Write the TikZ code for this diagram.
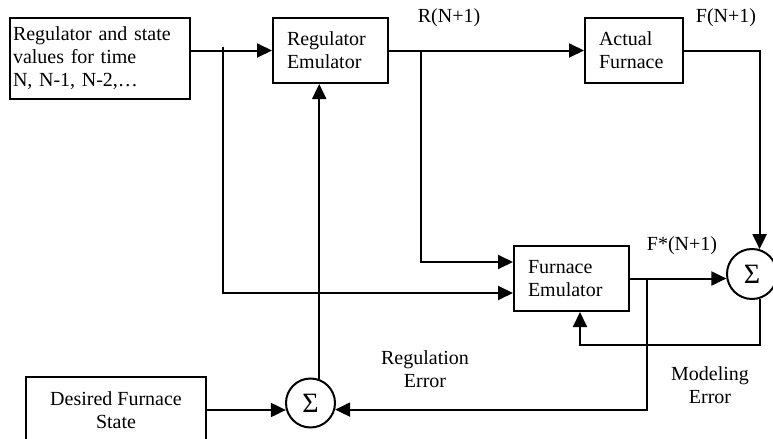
\documentclass[tikz,border=0pt]{standalone}
\usepackage{fontspec}
\setmainfont{Liberation Serif}
\usetikzlibrary{arrows.meta, positioning, calc}

\begin{document}
\begin{tikzpicture}[-{Triangle[length=7.5pt,width=7pt]}, line width=1pt, font=\fontsize{10}{11.5}\selectfont]
  \tikzstyle{block} = [rectangle, draw, minimum height=32.5pt, align=left, inner xsep=7pt]
  \tikzstyle{sum} = [circle, draw, inner sep=0pt, font=\fontsize{14}{14}\selectfont]
  \tikzstyle{lbl} = [align=center, inner sep=0pt]

  \useasboundingbox (0,0) rectangle (386.5pt,-219.5pt);

  \node[rectangle, draw, anchor=north west, text width=87pt, inner xsep=1.5pt, minimum height=40.5pt, align=left] (Input) at (4.5pt,-8.5pt) {Regulator and state\\values for time\\N, N-1, N-2,\ldots};
  \node[block, text width=43.5pt, right=40.5pt of Input.north east, anchor=north west] (RegEm) {Regulator\\Emulator};
  \node[block, text width=35pt, right=97.5pt of RegEm.north east, anchor=north west] (Furnace) {Actual\\Furnace};
  \node[block, text width=43.5pt] (FurnEm) at (285.75pt,-139.25pt) {Furnace\\Emulator};
  \node[sum, minimum size=25pt] (SumM) at (376pt,-137pt) {Σ};
  \node[sum, minimum size=24.5pt] (SumR) at (155.25pt,-201.5pt) {Σ};
  \node[rectangle, draw, anchor=north west, minimum width=90pt, minimum height=33pt, align=center] (Desired) at (12.5pt,-188pt) {Desired Furnace\\State};

  % labels
  \node[lbl] (RLabel) at (224.5pt,-9pt) {R(N+1)};
  \node[lbl] (FLabel) at (363pt,-9pt) {F(N+1)};
  \node[lbl] (FsLabel) at (341pt,-123pt) {F*(N+1)};
  \node[lbl] (RegErr) at (212.5pt,-184.5pt) {Regulation\\Error};
  \node[lbl] (ModErr) at (355pt,-192.5pt) {Modeling\\Error};

  % branch points
  \coordinate (InBr) at ($(RegEm.west -| Input.east)+(16pt,0)$);
  \coordinate (RBr) at ($(RegEm.east)+(16pt,0)$);
  \coordinate (FBr) at ($(FurnEm.east)+(8.5pt,0)$);

  \draw (RegEm.west -| Input.east) -- (RegEm.west);
  \draw (RegEm.east) -- (Furnace.west);
  \draw ($(InBr)+(0,2pt)$) |- ([yshift=-7.25pt]FurnEm.west);
  \draw (RBr) |- ([yshift=8.25pt]FurnEm.west);
  \draw (Furnace.east) -| (SumM.73);
  \draw (FurnEm.east) -- (FurnEm.east -| SumM.190);
  \draw (SumM.-72) -- ++(0,-23pt) -| ([xshift=4.25pt]FurnEm.south);
  \draw (FBr) |- (SumR.-15);
  \draw (Desired.east) -- (Desired.east -| SumR.195);
  \draw (SumR.70) -- (SumR.70 |- RegEm.south);
\end{tikzpicture}
\end{document}
